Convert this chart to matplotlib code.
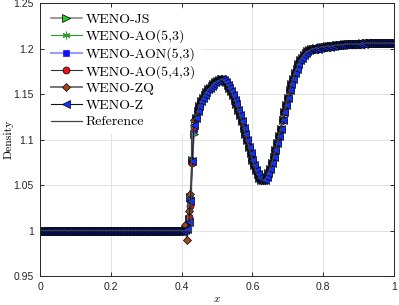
import matplotlib
matplotlib.use("Agg")
import matplotlib.pyplot as plt
import numpy as np

plt.rcParams['mathtext.fontset'] = 'cm'
plt.rcParams['axes.unicode_minus'] = False

# grid: 201 points, dx = 0.005
x = np.round(np.arange(201) * 0.005, 3)

# undisturbed state x = 0 .. 0.395
rho_left = [1.0] * 80

# shock cells x = 0.400 .. 0.435 (per scheme)
shock_js    = [1.000, 1.000, 1.001, 1.003, 1.013, 1.037, 1.078, 1.106]
shock_ao53  = [1.000, 1.000, 1.001, 1.004, 1.012, 1.035, 1.077, 1.110]
shock_aon53 = [1.000, 1.000, 1.001, 1.004, 1.011, 1.034, 1.076, 1.112]
shock_ao543 = [1.000, 1.000, 1.002, 1.005, 1.015, 1.027, 1.074, 1.114]
shock_zq    = [1.000, 1.002, 1.006, 0.990, 1.021, 1.040, 1.078, 1.121]
shock_z     = [1.000, 1.000, 1.001, 1.002, 1.009, 1.033, 1.076, 1.116]

# smooth post-shock region x = 0.440 .. 1.000
rho_right = [1.124, 1.131, 1.137, 1.142, 1.146, 1.149, 1.152, 1.155, 1.157, 1.159,
             1.161, 1.163, 1.164, 1.165, 1.166, 1.166, 1.165, 1.163, 1.160, 1.157,
             1.153, 1.149, 1.144, 1.139, 1.133, 1.127, 1.120, 1.113, 1.106, 1.099,
             1.092, 1.085, 1.078, 1.072, 1.066, 1.062, 1.058, 1.056, 1.055, 1.056,
             1.059, 1.063, 1.068, 1.074, 1.081, 1.088, 1.096, 1.104, 1.112, 1.121,
             1.130, 1.138, 1.146, 1.154, 1.161, 1.167, 1.173, 1.178, 1.183, 1.187,
             1.190, 1.193, 1.195, 1.197, 1.198, 1.199, 1.200, 1.200, 1.201, 1.200,
             1.201, 1.202, 1.202, 1.202, 1.203, 1.203, 1.202, 1.203, 1.203, 1.204,
             1.204, 1.204, 1.204, 1.204, 1.205, 1.205, 1.205, 1.205, 1.205, 1.205,
             1.205, 1.205, 1.205, 1.205, 1.206, 1.205, 1.206, 1.206, 1.206, 1.206,
             1.206, 1.206, 1.206, 1.206, 1.206, 1.206, 1.206, 1.206, 1.206, 1.206,
             1.206, 1.206, 1.206]

# reference solution (jump + smooth part)
x_ref = [0.0, 0.428, 0.428] + list(x[88:])
rho_ref = [1.0, 1.0, 1.12] + rho_right

labels = ['WENO-JS', 'WENO-AO(5,3)', 'WENO-AON(5,3)', 'WENO-AO(5,4,3)',
          'WENO-ZQ', 'WENO-Z', 'Reference']

fig = plt.figure(figsize=(3.99, 3.05), dpi=100)
ax = fig.add_axes([0.1003, 0.095, 0.8872, 0.895])

ms = 5.4
ax.plot(x, rho_left + shock_js + rho_right, color='#7f7f7f', lw=1.1, marker='>',
        ms=ms, mfc='#22cc22', mec='k', mew=0.5, label=labels[0])
ax.plot(x, rho_left + shock_ao53 + rho_right, color='#2e9a2e', lw=0.8,
        marker=(6, 2, 0), ms=ms, mec='#2e9a2e', mew=0.8, label=labels[1])
ax.plot(x, rho_left + shock_aon53 + rho_right, color='#9a9aff', lw=1.5, marker='s',
        ms=ms - 0.9, mfc='#1010ff', mec='#1010ff', mew=0.5, label=labels[2])
ax.plot(x, rho_left + shock_ao543 + rho_right, color='#333333', lw=0.8, marker='o',
        ms=ms - 0.4, mfc='#ee1111', mec='k', mew=0.5, label=labels[3])
ax.plot(x, rho_left + shock_zq + rho_right, color='#777777', lw=1.4, marker='D',
        ms=ms - 0.9, mfc='#a0461e', mec='k', mew=0.5, label=labels[4])
ax.plot(x, rho_left + shock_z + rho_right, color='#111122', lw=0.8, marker='<',
        ms=ms, mfc='#1030ff', mec='k', mew=0.5, label=labels[5])
ax.plot(x_ref, rho_ref, color='#444444', lw=0.9, label=labels[6])

ax.set_xlim(0, 1)
ax.set_ylim(0.95, 1.25)
ax.set_xticks([0, 0.2, 0.4, 0.6, 0.8, 1])
ax.set_xticklabels(['0', '0.2', '0.4', '0.6', '0.8', '1'])
ax.set_yticks([0.95, 1.0, 1.05, 1.1, 1.15, 1.2, 1.25])
ax.set_yticklabels(['0.95', '1', '1.05', '1.1', '1.15', '1.2', '1.25'])
ax.grid(True, color='#e3e3e3', lw=0.7, zorder=0.5)
ax.set_axisbelow(True)
ax.tick_params(direction='in', top=True, right=True, length=3, width=0.7,
               labelsize=7.5, colors='#262626', pad=4.5)
for lab in ax.get_xticklabels() + ax.get_yticklabels():
    lab.set_fontfamily('Liberation Sans')
for sp in ax.spines.values():
    sp.set_color('#262626')
    sp.set_linewidth(0.7)

ax.set_xlabel('$x$', fontsize=8, labelpad=1)
ax.set_ylabel('Density', fontfamily='cmr10', fontsize=8.5, labelpad=0)

leg = ax.legend(loc='upper left', bbox_to_anchor=(0.0, 1.005),
                prop={'family': 'cmr10', 'size': 10}, handlelength=2.2,
                handletextpad=0.3, labelspacing=0.28, borderpad=0.3,
                frameon=True, fancybox=False, framealpha=1.0,
                facecolor='white', edgecolor='white')
# data marks stay visible over the legend box, grid stays hidden behind it
leg.set_zorder(1.5)

fig.savefig('out.png', dpi=100)
